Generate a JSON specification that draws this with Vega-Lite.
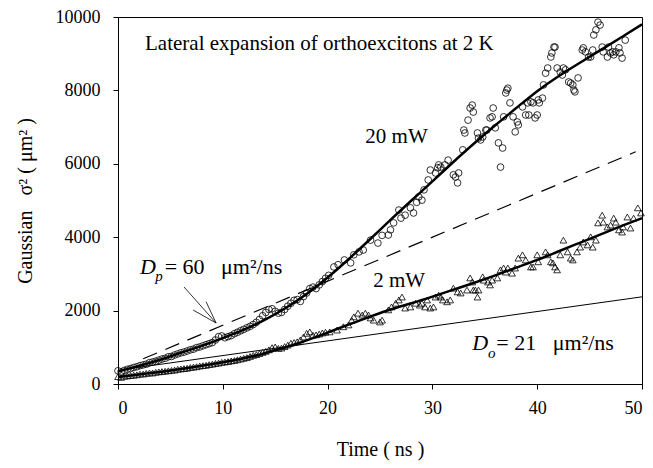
{
  "$schema": "https://vega.github.io/schema/vega-lite/v6.json",
  "width": 524,
  "height": 367,
  "autosize": {"type": "none"},
  "padding": {"left": 118, "top": 17, "right": 11, "bottom": 84},
  "background": "white",
  "config": {
    "view": {"stroke": "black", "strokeWidth": 1},
    "font": "Liberation Serif",
    "axis": {
      "domainColor": "black", "tickColor": "black", "labelColor": "black", "titleColor": "black",
      "labelFont": "Liberation Serif", "titleFont": "Liberation Serif",
      "labelFontSize": 18, "titleFontSize": 20, "titleFontWeight": "normal",
      "grid": false, "tickSize": 5, "domainWidth": 1, "tickWidth": 1
    }
  },
  "datasets": {
    "pts": [
      {"s":"a","t":0,"v":360},{"s":"a","t":0.3,"v":330},{"s":"a","t":0.6,"v":370},{"s":"a","t":0.9,"v":400},{"s":"a","t":1.2,"v":420},{"s":"a","t":1.5,"v":450},{"s":"a","t":1.8,"v":470},{"s":"a","t":2.1,"v":500},{"s":"a","t":2.4,"v":520},{"s":"a","t":2.7,"v":540},
      {"s":"a","t":3.0,"v":580},{"s":"a","t":3.3,"v":600},{"s":"a","t":3.6,"v":620},{"s":"a","t":3.9,"v":650},{"s":"a","t":4.2,"v":680},{"s":"a","t":4.5,"v":700},{"s":"a","t":4.8,"v":740},{"s":"a","t":5.1,"v":750},{"s":"a","t":5.4,"v":790},{"s":"a","t":5.7,"v":820},
      {"s":"a","t":6.0,"v":850},{"s":"a","t":6.3,"v":870},{"s":"a","t":6.6,"v":900},{"s":"a","t":6.9,"v":930},{"s":"a","t":7.2,"v":950},{"s":"a","t":7.5,"v":990},{"s":"a","t":7.8,"v":1010},{"s":"a","t":8.1,"v":1040},{"s":"a","t":8.4,"v":1070},{"s":"a","t":8.7,"v":1100},
      {"s":"a","t":9.0,"v":1130},{"s":"a","t":9.3,"v":1200},{"s":"a","t":9.6,"v":1290},{"s":"a","t":9.9,"v":1310},{"s":"a","t":10.2,"v":1260},{"s":"a","t":10.5,"v":1290},{"s":"a","t":10.8,"v":1320},{"s":"a","t":11.1,"v":1370},{"s":"a","t":11.4,"v":1410},{"s":"a","t":11.7,"v":1450},
      {"s":"a","t":12.0,"v":1490},{"s":"a","t":12.3,"v":1530},{"s":"a","t":12.6,"v":1570},{"s":"a","t":12.9,"v":1620},{"s":"a","t":13.2,"v":1680},{"s":"a","t":13.5,"v":1760},{"s":"a","t":13.8,"v":1860},{"s":"a","t":14.1,"v":1950},{"s":"a","t":14.4,"v":2030},{"s":"a","t":14.7,"v":2050},
      {"s":"a","t":15.0,"v":1980},{"s":"a","t":15.3,"v":1930},{"s":"a","t":15.6,"v":1950},{"s":"a","t":15.9,"v":2030},{"s":"a","t":16.2,"v":2120},{"s":"a","t":16.5,"v":2200},{"s":"a","t":16.8,"v":2280},{"s":"a","t":17.1,"v":2300},{"s":"a","t":17.4,"v":2250},{"s":"a","t":17.7,"v":2380},
      {"s":"a","t":18.0,"v":2480},{"s":"a","t":18.3,"v":2600},{"s":"a","t":18.6,"v":2640},{"s":"a","t":18.9,"v":2600},{"s":"a","t":19.2,"v":2700},{"s":"a","t":19.5,"v":2790},{"s":"a","t":19.8,"v":2880},
      {"s":"a","t":20.1,"v":2960},{"s":"a","t":20.6,"v":3190},{"s":"a","t":21.0,"v":3250},{"s":"a","t":21.6,"v":3380},{"s":"a","t":22.2,"v":3300},{"s":"a","t":22.5,"v":3520},{"s":"a","t":23.0,"v":3600},{"s":"a","t":23.4,"v":3650},{"s":"a","t":24.1,"v":3920},{"s":"a","t":24.8,"v":3840},
      {"s":"a","t":25.2,"v":4050},{"s":"a","t":25.8,"v":4060},{"s":"a","t":26.0,"v":4200},{"s":"a","t":26.3,"v":4390},{"s":"a","t":26.8,"v":4740},{"s":"a","t":27.0,"v":4520},{"s":"a","t":27.4,"v":4600},{"s":"a","t":27.9,"v":4800},{"s":"a","t":28.2,"v":4660},{"s":"a","t":28.5,"v":4950},
      {"s":"a","t":28.7,"v":5100},{"s":"a","t":29.0,"v":5010},{"s":"a","t":29.2,"v":5290},{"s":"a","t":29.6,"v":5560},{"s":"a","t":29.8,"v":5830},{"s":"a","t":30.3,"v":5750},{"s":"a","t":30.5,"v":5890},{"s":"a","t":30.6,"v":5970},{"s":"a","t":30.8,"v":5910},{"s":"a","t":31.2,"v":5970},
      {"s":"a","t":31.5,"v":6100},{"s":"a","t":32.0,"v":5700},{"s":"a","t":32.2,"v":5640},{"s":"a","t":32.4,"v":5480},{"s":"a","t":32.5,"v":5750},{"s":"a","t":32.9,"v":6380},{"s":"a","t":33.0,"v":6920},{"s":"a","t":33.1,"v":6840},{"s":"a","t":33.4,"v":7190},{"s":"a","t":33.6,"v":7520},
      {"s":"a","t":33.8,"v":7600},{"s":"a","t":33.9,"v":7410},{"s":"a","t":34.3,"v":6840},{"s":"a","t":34.4,"v":6700},{"s":"a","t":34.6,"v":6650},{"s":"a","t":34.8,"v":6730},{"s":"a","t":35.1,"v":6920},{"s":"a","t":35.2,"v":6920},{"s":"a","t":35.5,"v":7250},{"s":"a","t":35.7,"v":7280},
      {"s":"a","t":35.8,"v":7520},{"s":"a","t":36.0,"v":6980},{"s":"a","t":36.3,"v":6570},{"s":"a","t":36.5,"v":5910},{"s":"a","t":36.7,"v":6430},{"s":"a","t":36.8,"v":7280},{"s":"a","t":37.0,"v":7930},{"s":"a","t":37.1,"v":8010},{"s":"a","t":37.2,"v":8060},{"s":"a","t":37.4,"v":7660},
      {"s":"a","t":37.7,"v":7280},{"s":"a","t":37.9,"v":6870},{"s":"a","t":38.1,"v":7140},{"s":"a","t":38.2,"v":7060},{"s":"a","t":38.6,"v":7550},{"s":"a","t":38.9,"v":7330},{"s":"a","t":39.1,"v":7660},{"s":"a","t":39.2,"v":7330},{"s":"a","t":39.4,"v":7690},{"s":"a","t":39.6,"v":7660},
      {"s":"a","t":39.8,"v":7250},{"s":"a","t":40.0,"v":7330},{"s":"a","t":40.1,"v":7740},{"s":"a","t":40.2,"v":7660},{"s":"a","t":40.5,"v":7790},{"s":"a","t":40.6,"v":8150},{"s":"a","t":40.8,"v":8470},{"s":"a","t":41.0,"v":8610},{"s":"a","t":41.3,"v":8910},{"s":"a","t":41.4,"v":9020},
      {"s":"a","t":41.6,"v":9180},{"s":"a","t":41.7,"v":9180},{"s":"a","t":41.9,"v":8610},{"s":"a","t":42.2,"v":8500},{"s":"a","t":42.4,"v":8420},{"s":"a","t":42.5,"v":8610},{"s":"a","t":42.7,"v":8560},{"s":"a","t":43.0,"v":8230},{"s":"a","t":43.2,"v":8200},{"s":"a","t":43.4,"v":8150},
      {"s":"a","t":43.5,"v":8010},{"s":"a","t":43.6,"v":7960},{"s":"a","t":43.9,"v":8340},{"s":"a","t":44.3,"v":9100},{"s":"a","t":44.4,"v":9160},{"s":"a","t":44.6,"v":9050},{"s":"a","t":44.9,"v":8910},{"s":"a","t":45.1,"v":8910},{"s":"a","t":45.3,"v":9100},{"s":"a","t":45.4,"v":9510},
      {"s":"a","t":45.6,"v":9650},{"s":"a","t":45.8,"v":9860},{"s":"a","t":46.0,"v":9780},{"s":"a","t":46.2,"v":9180},{"s":"a","t":46.3,"v":9050},{"s":"a","t":46.7,"v":8910},{"s":"a","t":46.8,"v":9180},{"s":"a","t":47.0,"v":9020},{"s":"a","t":47.2,"v":9050},{"s":"a","t":47.3,"v":8970},
      {"s":"a","t":47.5,"v":9050},{"s":"a","t":47.8,"v":9160},{"s":"a","t":47.9,"v":9020},{"s":"a","t":48.1,"v":8880},{"s":"a","t":48.4,"v":9370},
      {"s":"b","t":0,"v":200},{"s":"b","t":0.3,"v":180},{"s":"b","t":0.6,"v":210},{"s":"b","t":0.9,"v":220},{"s":"b","t":1.2,"v":230},{"s":"b","t":1.5,"v":240},{"s":"b","t":1.8,"v":250},{"s":"b","t":2.1,"v":270},{"s":"b","t":2.4,"v":270},{"s":"b","t":2.7,"v":290},
      {"s":"b","t":3.0,"v":300},{"s":"b","t":3.3,"v":300},{"s":"b","t":3.6,"v":320},{"s":"b","t":3.9,"v":330},{"s":"b","t":4.2,"v":340},{"s":"b","t":4.5,"v":350},{"s":"b","t":4.8,"v":360},{"s":"b","t":5.1,"v":370},{"s":"b","t":5.4,"v":380},{"s":"b","t":5.7,"v":400},
      {"s":"b","t":6.0,"v":410},{"s":"b","t":6.3,"v":420},{"s":"b","t":6.6,"v":430},{"s":"b","t":6.9,"v":450},{"s":"b","t":7.2,"v":460},{"s":"b","t":7.5,"v":470},{"s":"b","t":7.8,"v":490},{"s":"b","t":8.1,"v":500},{"s":"b","t":8.4,"v":510},{"s":"b","t":8.7,"v":530},
      {"s":"b","t":9.0,"v":540},{"s":"b","t":9.3,"v":560},{"s":"b","t":9.6,"v":570},{"s":"b","t":9.9,"v":590},{"s":"b","t":10.2,"v":600},{"s":"b","t":10.5,"v":610},{"s":"b","t":10.8,"v":630},{"s":"b","t":11.1,"v":640},{"s":"b","t":11.4,"v":660},{"s":"b","t":11.7,"v":680},
      {"s":"b","t":12.0,"v":700},{"s":"b","t":12.3,"v":720},{"s":"b","t":12.6,"v":750},{"s":"b","t":12.9,"v":780},{"s":"b","t":13.2,"v":800},{"s":"b","t":13.5,"v":830},{"s":"b","t":13.8,"v":860},{"s":"b","t":14.1,"v":890},{"s":"b","t":14.4,"v":930},{"s":"b","t":14.7,"v":990},
      {"s":"b","t":15.0,"v":1010},{"s":"b","t":15.3,"v":970},{"s":"b","t":15.6,"v":980},{"s":"b","t":15.9,"v":1020},{"s":"b","t":16.2,"v":1060},{"s":"b","t":16.5,"v":1110},{"s":"b","t":16.8,"v":1130},{"s":"b","t":17.1,"v":1150},{"s":"b","t":17.4,"v":1200},{"s":"b","t":17.7,"v":1280},
      {"s":"b","t":18.0,"v":1380},{"s":"b","t":18.3,"v":1420},{"s":"b","t":18.6,"v":1330},{"s":"b","t":18.9,"v":1340},{"s":"b","t":19.2,"v":1360},{"s":"b","t":19.5,"v":1390},{"s":"b","t":19.8,"v":1410},
      {"s":"b","t":20.2,"v":1420},{"s":"b","t":20.9,"v":1470},{"s":"b","t":21.5,"v":1560},{"s":"b","t":22.0,"v":1610},{"s":"b","t":22.3,"v":1740},{"s":"b","t":22.5,"v":1830},{"s":"b","t":22.9,"v":1930},{"s":"b","t":23.3,"v":1880},{"s":"b","t":23.6,"v":1930},{"s":"b","t":23.9,"v":1880},
      {"s":"b","t":24.1,"v":1800},{"s":"b","t":24.4,"v":1740},{"s":"b","t":25.0,"v":1690},{"s":"b","t":25.2,"v":1740},{"s":"b","t":25.8,"v":2020},{"s":"b","t":26.1,"v":2100},{"s":"b","t":26.5,"v":2200},{"s":"b","t":26.8,"v":2290},{"s":"b","t":27.1,"v":2370},{"s":"b","t":27.4,"v":2070},
      {"s":"b","t":27.9,"v":2100},{"s":"b","t":28.4,"v":2200},{"s":"b","t":28.8,"v":2150},{"s":"b","t":29.0,"v":2200},{"s":"b","t":29.3,"v":2100},{"s":"b","t":29.5,"v":2290},{"s":"b","t":29.8,"v":2070},{"s":"b","t":30.1,"v":2100},{"s":"b","t":30.3,"v":2370},{"s":"b","t":30.6,"v":2420},
      {"s":"b","t":30.8,"v":2370},{"s":"b","t":31.0,"v":2290},{"s":"b","t":31.4,"v":2240},{"s":"b","t":31.7,"v":2290},{"s":"b","t":32.0,"v":2610},{"s":"b","t":32.4,"v":2510},{"s":"b","t":32.7,"v":2480},{"s":"b","t":33.3,"v":2560},{"s":"b","t":33.6,"v":2890},{"s":"b","t":33.8,"v":2780},
      {"s":"b","t":33.9,"v":2560},{"s":"b","t":34.1,"v":2560},{"s":"b","t":34.3,"v":2370},{"s":"b","t":34.4,"v":2560},{"s":"b","t":34.8,"v":2920},{"s":"b","t":34.9,"v":2830},{"s":"b","t":35.3,"v":2780},{"s":"b","t":35.5,"v":2700},{"s":"b","t":35.7,"v":2830},{"s":"b","t":36.2,"v":2890},
      {"s":"b","t":36.5,"v":3110},{"s":"b","t":36.8,"v":3160},{"s":"b","t":37.0,"v":3050},{"s":"b","t":37.2,"v":3160},{"s":"b","t":37.6,"v":3020},{"s":"b","t":37.9,"v":3160},{"s":"b","t":38.2,"v":3430},{"s":"b","t":38.6,"v":3520},{"s":"b","t":38.9,"v":3380},{"s":"b","t":39.4,"v":3190},
      {"s":"b","t":39.6,"v":3190},{"s":"b","t":40.0,"v":3520},{"s":"b","t":40.1,"v":3330},{"s":"b","t":40.8,"v":3600},{"s":"b","t":41.0,"v":3520},{"s":"b","t":41.3,"v":3330},{"s":"b","t":41.5,"v":3300},{"s":"b","t":41.7,"v":3190},{"s":"b","t":41.9,"v":3110},{"s":"b","t":42.2,"v":3520},
      {"s":"b","t":42.5,"v":3920},{"s":"b","t":42.9,"v":3600},{"s":"b","t":43.2,"v":3430},{"s":"b","t":43.4,"v":3380},{"s":"b","t":43.8,"v":3600},{"s":"b","t":44.1,"v":3730},{"s":"b","t":44.4,"v":3870},{"s":"b","t":44.8,"v":3790},{"s":"b","t":45.1,"v":4010},{"s":"b","t":45.3,"v":3730},
      {"s":"b","t":45.6,"v":3920},{"s":"b","t":45.8,"v":4390},{"s":"b","t":46.2,"v":4600},{"s":"b","t":46.3,"v":4410},{"s":"b","t":46.7,"v":4280},{"s":"b","t":47.0,"v":4330},{"s":"b","t":47.3,"v":4520},{"s":"b","t":47.5,"v":4410},{"s":"b","t":47.8,"v":4200},{"s":"b","t":48.1,"v":4140},
      {"s":"b","t":48.2,"v":4280},{"s":"b","t":48.6,"v":4550},{"s":"b","t":48.9,"v":4250},{"s":"b","t":49.2,"v":4520},{"s":"b","t":49.6,"v":4800},{"s":"b","t":49.9,"v":4660}
    ],
    "fit": [
      {"s":"a","t":0,"v":340},{"s":"a","t":2,"v":490},{"s":"a","t":4,"v":660},{"s":"a","t":6,"v":850},{"s":"a","t":8,"v":1040},{"s":"a","t":10,"v":1250},{"s":"a","t":12,"v":1480},{"s":"a","t":14,"v":1750},{"s":"a","t":16,"v":2070},{"s":"a","t":18,"v":2450},{"s":"a","t":20,"v":2900},{"s":"a","t":22,"v":3400},{"s":"a","t":24,"v":3930},{"s":"a","t":26,"v":4470},{"s":"a","t":28,"v":5000},{"s":"a","t":30,"v":5520},{"s":"a","t":32,"v":6050},{"s":"a","t":34,"v":6560},{"s":"a","t":36,"v":7050},{"s":"a","t":38,"v":7520},{"s":"a","t":40,"v":7980},{"s":"a","t":42,"v":8380},{"s":"a","t":44,"v":8740},{"s":"a","t":46,"v":9090},{"s":"a","t":48,"v":9440},{"s":"a","t":50,"v":9800},
      {"s":"b","t":0,"v":190},{"s":"b","t":2,"v":260},{"s":"b","t":4,"v":330},{"s":"b","t":6,"v":410},{"s":"b","t":8,"v":500},{"s":"b","t":10,"v":590},{"s":"b","t":12,"v":700},{"s":"b","t":14,"v":840},{"s":"b","t":16,"v":1000},{"s":"b","t":18,"v":1190},{"s":"b","t":20,"v":1400},{"s":"b","t":22,"v":1620},{"s":"b","t":24,"v":1830},{"s":"b","t":26,"v":2030},{"s":"b","t":28,"v":2200},{"s":"b","t":30,"v":2380},{"s":"b","t":32,"v":2570},{"s":"b","t":34,"v":2760},{"s":"b","t":36,"v":2960},{"s":"b","t":38,"v":3170},{"s":"b","t":40,"v":3380},{"s":"b","t":42,"v":3610},{"s":"b","t":44,"v":3840},{"s":"b","t":46,"v":4070},{"s":"b","t":48,"v":4300},{"s":"b","t":50,"v":4520}
    ]
  },
  "encoding": {
    "x": {"field": "t", "type": "quantitative", "scale": {"domain": [0, 50], "nice": false},
          "axis": {"title": "Time ( ns )", "values": [0, 10, 20, 30, 40, 50], "labelPadding": 10, "titlePadding": 22}},
    "y": {"field": "v", "type": "quantitative", "scale": {"domain": [0, 10000], "nice": false},
          "axis": {"title": "Gaussian\u00a0\u00a0 σ² ( μm² )", "values": [0, 2000, 4000, 6000, 8000, 10000], "format": "d", "labelPadding": 13, "titlePadding": 20}}
  },
  "layer": [
    {
      "data": {"name": "pts"},
      "mark": {"type": "point", "filled": false, "color": "black", "strokeWidth": 0.8, "size": 45, "opacity": 1},
      "encoding": {
        "shape": {"field": "s", "type": "nominal", "scale": {"domain": ["a", "b"], "range": ["circle", "triangle-up"]}, "legend": null}
      }
    },
    {
      "data": {"values": [{"t": 2.4, "v": 688}, {"t": 49.4, "v": 6328}]},
      "mark": {"type": "line", "color": "black", "strokeWidth": 1.2, "strokeDash": [15, 9]},
      "encoding": {}
    },
    {
      "data": {"values": [{"t": 0.3, "v": 387}, {"t": 50, "v": 2375}]},
      "mark": {"type": "line", "color": "black", "strokeWidth": 1},
      "encoding": {}
    },
    {
      "data": {"name": "fit"},
      "mark": {"type": "line", "color": "black", "strokeWidth": 2.5, "interpolate": "natural"},
      "encoding": {"detail": {"field": "s"}}
    },
    {
      "data": {"values": [
        {"t": 6.3, "v": 2643, "t2": 9.36, "v2": 1662},
        {"t": 8.4, "v": 2243, "t2": 9.36, "v2": 1662},
        {"t": 7.16, "v": 2016, "t2": 9.36, "v2": 1662}
      ]},
      "mark": {"type": "rule", "color": "black", "strokeWidth": 0.8},
      "encoding": {"x2": {"field": "t2"}, "y2": {"field": "v2"}}
    },
    {
      "data": {"values": [
        {"t": 2.58, "v": 9101, "label": "Lateral expansion of orthoexcitons at 2 K"},
        {"t": 23.6, "v": 6567, "label": "20 mW"},
        {"t": 24.35, "v": 2643, "label": "2 mW"}
      ]},
      "mark": {"type": "text", "align": "left", "baseline": "alphabetic", "font": "Liberation Serif", "fontSize": 21, "color": "black"},
      "encoding": {"text": {"field": "label"}}
    },
    {
      "data": {"values": [
        {"t": 4.45, "v": 3000, "label": "= 60\u00a0\u00a0 μm²/ns"},
        {"t": 36.1, "v": 926, "label": "= 21\u00a0\u00a0 μm²/ns"}
      ]},
      "mark": {"type": "text", "align": "left", "baseline": "alphabetic", "font": "Liberation Serif", "fontSize": 22, "color": "black"},
      "encoding": {"text": {"field": "label"}}
    },
    {
      "data": {"values": [
        {"t": 2.1, "v": 3000, "label": "D"},
        {"t": 33.8, "v": 926, "label": "D"}
      ]},
      "mark": {"type": "text", "align": "left", "baseline": "alphabetic", "font": "Liberation Serif", "fontStyle": "italic", "fontSize": 22, "color": "black"},
      "encoding": {"text": {"field": "label"}}
    },
    {
      "data": {"values": [
        {"t": 3.55, "v": 2800, "label": "p"},
        {"t": 35.3, "v": 700, "label": "o"}
      ]},
      "mark": {"type": "text", "align": "left", "baseline": "alphabetic", "font": "Liberation Serif", "fontStyle": "italic", "fontSize": 15, "color": "black"},
      "encoding": {"text": {"field": "label"}}
    }
  ]
}
